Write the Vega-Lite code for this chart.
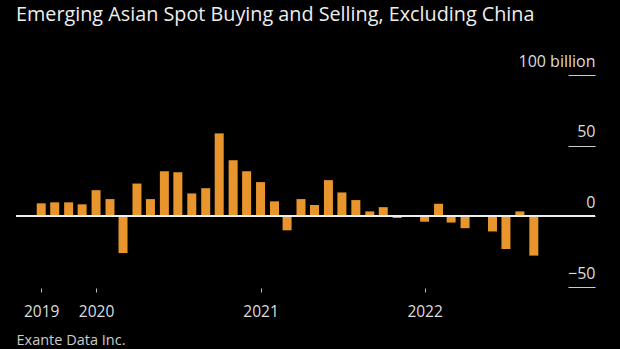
{
  "$schema": "https://vega.github.io/schema/vega-lite/v6.json",
  "width": 579,
  "height": 212,
  "autosize": "none",
  "padding": {"left": 16, "right": 25, "top": 75, "bottom": 62},
  "background": "#000000",
  "title": {
    "text": "Emerging Asian Spot Buying and Selling, Excluding China",
    "anchor": "start",
    "frame": "group",
    "font": "Open Sans",
    "fontSize": 19.8,
    "fontWeight": "normal",
    "color": "#eeeeee",
    "baseline": "alphabetic",
    "offset": 0,
    "dy": -12
  },
  "config": {
    "view": {"stroke": null},
    "font": "Open Sans"
  },
  "data": {
    "values": [
      {"date": "2019-09-01", "value": 9.2},
      {"date": "2019-10-01", "value": 9.9},
      {"date": "2019-11-01", "value": 9.9},
      {"date": "2019-12-01", "value": 8.5},
      {"date": "2020-01-01", "value": 18.5},
      {"date": "2020-02-01", "value": 12.2},
      {"date": "2020-03-01", "value": -26},
      {"date": "2020-04-01", "value": 23.2},
      {"date": "2020-05-01", "value": 12.2},
      {"date": "2020-06-01", "value": 31.9},
      {"date": "2020-07-01", "value": 31.2},
      {"date": "2020-08-01", "value": 16.2},
      {"date": "2020-09-01", "value": 19.9},
      {"date": "2020-10-01", "value": 58.7},
      {"date": "2020-11-01", "value": 39.7},
      {"date": "2020-12-01", "value": 31.9},
      {"date": "2021-01-01", "value": 24.2},
      {"date": "2021-02-01", "value": 10.6},
      {"date": "2021-03-01", "value": -9.9},
      {"date": "2021-04-01", "value": 12.2},
      {"date": "2021-05-01", "value": 8.0},
      {"date": "2021-06-01", "value": 25.6},
      {"date": "2021-07-01", "value": 16.9},
      {"date": "2021-08-01", "value": 11.5},
      {"date": "2021-09-01", "value": 3.5},
      {"date": "2021-10-01", "value": 6.5},
      {"date": "2021-11-01", "value": -1.2},
      {"date": "2021-12-01", "value": -0.3},
      {"date": "2022-01-01", "value": -3.8},
      {"date": "2022-02-01", "value": 8.9},
      {"date": "2022-03-01", "value": -4.4},
      {"date": "2022-04-01", "value": -8.4},
      {"date": "2022-05-01", "value": -0.3},
      {"date": "2022-06-01", "value": -10.7},
      {"date": "2022-07-01", "value": -23.1},
      {"date": "2022-08-01", "value": 3.5},
      {"date": "2022-09-01", "value": -27.8}
    ]
  },
  "encoding": {
    "x": {
      "field": "date",
      "type": "temporal",
      "scale": {
        "type": "utc",
        "domain": [
          {"year": 2019, "month": 7, "date": 18, "utc": true},
          {"year": 2023, "month": 1, "date": 4, "utc": true}
        ]
      },
      "axis": {
        "values": [
          {"year": 2019, "month": 9, "date": 1, "utc": true},
          {"year": 2020, "month": 1, "date": 1, "utc": true},
          {"year": 2021, "month": 1, "date": 1, "utc": true},
          {"year": 2022, "month": 1, "date": 1, "utc": true}
        ],
        "format": "%Y",
        "domain": false,
        "grid": false,
        "offset": 1,
        "tickSize": 4,
        "tickColor": "#bbbbbb",
        "labelColor": "#dddddd",
        "labelFontSize": 15.5,
        "labelPadding": 12,
        "labelFlush": false,
        "labelOverlap": false,
        "title": "Exante Data Inc.",
        "titleAnchor": "start",
        "titleAlign": "left",
        "titleBaseline": "alphabetic",
        "titleX": 0,
        "titleY": 56,
        "titleFontSize": 14.5,
        "titleFontWeight": "normal",
        "titleColor": "#cccccc"
      }
    },
    "y": {
      "field": "value",
      "type": "quantitative",
      "scale": {"domain": [-50, 100], "nice": false},
      "axis": {
        "orient": "right",
        "values": [-50, 0, 50, 100],
        "domain": false,
        "grid": false,
        "tickSize": -27,
        "tickColor": "#cccccc",
        "labelPadding": 27,
        "labelAlign": "right",
        "labelBaseline": "alphabetic",
        "labelOffset": -9,
        "labelFontSize": 16,
        "labelColor": "#dddddd",
        "labelFlush": false,
        "labelOverlap": false,
        "labelBound": false,
        "labelExpr": "datum.value == 100 ? '100 billion' : datum.label",
        "title": null
      }
    }
  },
  "layer": [
    {
      "mark": {"type": "bar", "width": 9, "color": "#E9952E"},
      "encoding": {"x": {"field": "date", "type": "temporal"}, "y": {"field": "value", "type": "quantitative"}}
    },
    {
      "mark": {"type": "rule", "color": "#eeeeee", "strokeWidth": 1.5},
      "encoding": {"y": {"datum": 0}, "x": null}
    }
  ]
}
